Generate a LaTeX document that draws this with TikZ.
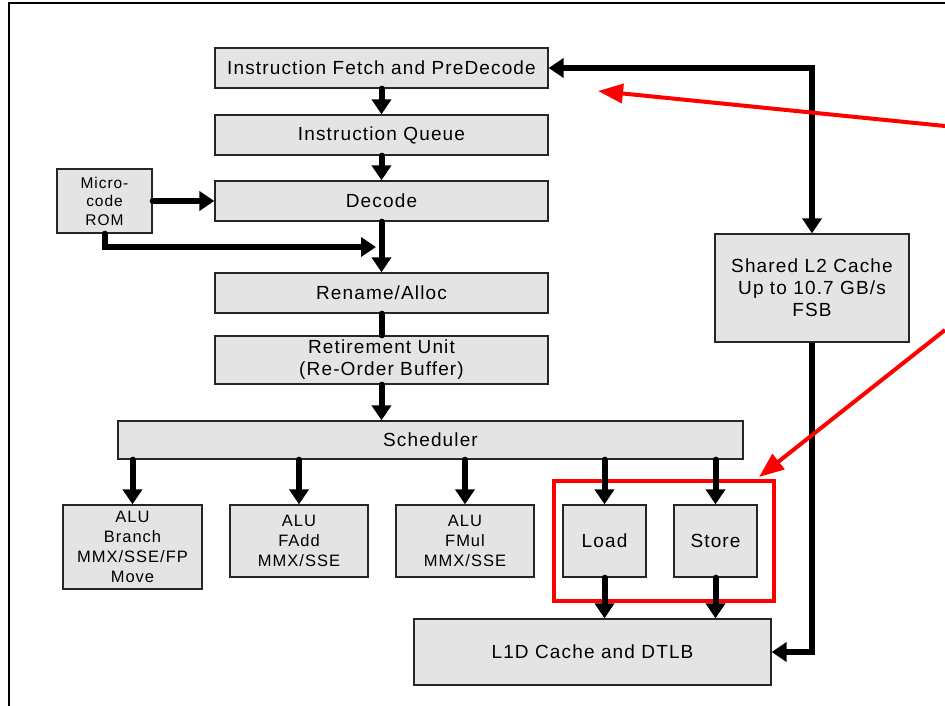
\documentclass[tikz,border=0pt]{standalone}
\usepackage{fontspec}
\setmainfont{Liberation Sans}[LetterSpace=6]
\usetikzlibrary{arrows.meta}
\begin{document}
\begin{tikzpicture}[x=1pt,y=-1pt,
  box/.style={draw=black!85, line width=1.3pt, fill={rgb,255:red,228;green,228;blue,228},
    inner sep=0pt, align=center, font=\fontsize{19}{22}\selectfont},
  alubox/.style={box, font=\fontsize{16.5}{20}\selectfont},
  rombox/.style={box, font=\fontsize{15.5}{18.5}\selectfont},
  conn/.style={line width=6pt, line cap=round, -{Triangle[width=19pt,length=15pt]}},
  bar/.style={line width=6pt, line cap=round},
  redarrow/.style={red, line width=4pt, -{Triangle[width=19pt,length=25pt]}}]
\useasboundingbox (0,0) rectangle (945,706);
\draw[line width=1.3pt] (9,706) -- (9,3) -- (945,3);

\node[box, minimum width=333pt, minimum height=40pt] (fetch) at (381.5,68) {Instruction Fetch and PreDecode};
\node[box, minimum width=333pt, minimum height=40pt] (queue) at (381.5,135) {Instruction Queue};
\node[box, minimum width=333pt, minimum height=40pt] (decode) at (381.5,201) {Decode};
\node[rombox, minimum width=95pt, minimum height=64pt] (rom) at (104.5,201) {Micro-\\code\\ROM};
\node[box, minimum width=333pt, minimum height=40pt] (rename) at (381.5,293) {Rename/Alloc};
\node[box, minimum width=333pt, minimum height=48pt] (retire) at (381.5,360) {Retirement Unit\\(Re-Order Buffer)};
\node[box, minimum width=625pt, minimum height=38pt] (sched) at (430.5,440) {Scheduler};
\node[alubox, minimum width=139pt, minimum height=84pt] (alu1) at (132.5,547) {ALU\\Branch\\MMX/SSE/FP\\Move};
\node[alubox, minimum width=138pt, minimum height=72pt] (alu2) at (299,541) {ALU\\FAdd\\MMX/SSE};
\node[alubox, minimum width=138pt, minimum height=72pt] (alu3) at (465,541) {ALU\\FMul\\MMX/SSE};
\node[box, minimum width=83pt, minimum height=72pt] (load) at (604.5,541) {Load};
\node[box, minimum width=83pt, minimum height=72pt] (store) at (715.5,541) {Store};
\node[box, minimum width=357pt, minimum height=66pt] (l1d) at (592.5,652) {L1D Cache and DTLB};
\node[box, minimum width=194pt, minimum height=108pt] (l2) at (812,288) {Shared L2 Cache\\Up to 10.7 GB/s\\FSB};
\node[draw=red, line width=3.5pt, minimum width=220pt, minimum height=120pt, inner sep=0pt] (redbox) at (664,541) {};

\draw[conn] (fetch.south) -- (queue.north);
\draw[conn] (queue.south) -- (decode.north);
\draw[conn] (rom.east) -- (decode.west);
\draw[conn] (decode.south) -- (rename.north);
\coordinate (merge) at (376,247);
\draw[conn] (rom.south) |- (merge);
\draw[bar] (rename.south) -- (retire.north);
\draw[conn] (retire.south) -- (retire.south |- sched.north);
\foreach \n in {alu1,alu2,alu3,load,store}
  \draw[conn] (sched.south -| \n.north) -- (\n.north);
\draw[conn] (load.south) -- (load.south |- l1d.north);
\draw[conn] (store.south) -- (store.south |- l1d.north);
\coordinate (corner) at (812,68);
\draw[line width=6pt, {Triangle[width=19pt,length=15pt]}-{Triangle[width=19pt,length=15pt]}] (fetch.east) -- (corner) -- (l2.north);
\draw[conn, line cap=butt] (l2.south) |- (l1d.east);

\coordinate (r1) at (945,126);
\coordinate (r1tip) at (598,91);
\coordinate (r2) at (945,330);
\coordinate (r2tip) at (759,477);
\draw[redarrow] (r1) -- (r1tip);
\draw[redarrow] (r2) -- (r2tip);
\end{tikzpicture}
\end{document}
